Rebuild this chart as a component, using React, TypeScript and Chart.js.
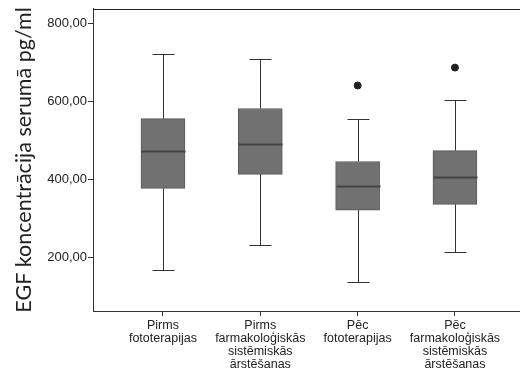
import React, { useEffect, useRef } from "react";
import { Chart, registerables } from "chart.js";

Chart.register(...registerables);

const categories: string[][] = [
  ["Pirms", "fototerapijas"],
  ["Pirms", "farmakoloģiskās", "sistēmiskās", "ārstēšanas"],
  ["Pēc", "fototerapijas"],
  ["Pēc", "farmakoloģiskās", "sistēmiskās", "ārstēšanas"],
];
const whiskerLow = [167, 231, 136, 213];
const q1 = [377, 413, 321, 336];
const median = [474, 492, 382, 405];
const q3 = [556, 582, 446, 474];
const whiskerHigh = [723, 708, 554, 603];
const outlierCat = [2, 3];
const outlierVal = [641, 687];
const yTicks = [200, 400, 600, 800];
const yTitle = "EGF koncentrācija serumā pg/ml";

const boxPlugin = {
  id: "boxParts",
  afterDatasetsDraw(chart: any) {
    const { ctx, scales } = chart;
    const x = scales.x;
    const y = scales.y;
    ctx.save();
    ctx.strokeStyle = "#333333";
    ctx.lineWidth = 1;
    for (let i = 0; i < categories.length; i++) {
      const cx = Math.round(x.getPixelForValue(i)) + 0.5;
      const yl = Math.round(y.getPixelForValue(whiskerLow[i])) + 0.5;
      const y1 = y.getPixelForValue(q1[i]);
      const y3 = y.getPixelForValue(q3[i]);
      const yh = Math.round(y.getPixelForValue(whiskerHigh[i])) + 0.5;
      const ym = Math.round(y.getPixelForValue(median[i])) + 0.5;
      const cap = 11;
      ctx.beginPath();
      ctx.moveTo(cx, y1);
      ctx.lineTo(cx, yl);
      ctx.moveTo(cx - cap, yl);
      ctx.lineTo(cx + cap, yl);
      ctx.moveTo(cx, y3);
      ctx.lineTo(cx, yh);
      ctx.moveTo(cx - cap, yh);
      ctx.lineTo(cx + cap, yh);
      ctx.stroke();
      ctx.beginPath();
      ctx.lineWidth = 2;
      ctx.strokeStyle = "#444444";
      ctx.moveTo(cx - 22, ym);
      ctx.lineTo(cx + 22, ym);
      ctx.stroke();
      ctx.lineWidth = 1;
      ctx.strokeStyle = "#333333";
    }
    ctx.restore();
  },
  afterDraw(chart: any) {
    const { ctx } = chart;
    const ca = chart.chartArea;
    ctx.save();
    // keep the plot open on the right, as in the reference
    ctx.fillStyle = "#ffffff";
    ctx.fillRect(ca.right - 3, ca.top + 2, 520 - ca.right + 3, ca.bottom - ca.top - 3);
    ctx.fillRect(ca.right - 3, ca.bottom + 1, 520 - ca.right + 3, 8);
    ctx.lineWidth = 1;
    ctx.beginPath();
    ctx.strokeStyle = "#222222";
    ctx.moveTo(ca.left, Math.round(ca.top) + 0.5);
    ctx.lineTo(520, Math.round(ca.top) + 0.5);
    ctx.stroke();
    ctx.beginPath();
    ctx.strokeStyle = "#333333";
    ctx.moveTo(ca.left, Math.round(ca.bottom) + 0.5);
    ctx.lineTo(520, Math.round(ca.bottom) + 0.5);
    ctx.stroke();
    ctx.restore();
  },
};

export default function App() {
  const ref = useRef<HTMLCanvasElement>(null);
  useEffect(() => {
    document.body.style.margin = "0";
    const canvas = ref.current!;
    const chart = new Chart(canvas, {
      type: "bar",
      data: {
        datasets: [
          {
            type: "bar",
            data: categories.map((_, i) => ({ x: i, y: [q1[i], q3[i]] })) as any,
            backgroundColor: "#717171",
            borderColor: "#5a5a5a",
            borderWidth: 1,
            borderSkipped: false,
            barThickness: 44,
          },
          {
            type: "scatter",
            data: outlierCat.map((c, i) => ({ x: c, y: outlierVal[i] })),
            backgroundColor: "#222222",
            borderColor: "#222222",
            pointRadius: 3.5,
            showLine: false,
          } as any,
        ],
      },
      options: {
        animation: false,
        responsive: false,
        maintainAspectRatio: false,
        layout: { padding: { top: 8, right: 0, left: 0, bottom: 0 } },
        plugins: { legend: { display: false }, tooltip: { enabled: false } },
        scales: {
          x: {
            type: "linear",
            offset: false,
            min: -0.719,
            max: 3.617,
            afterBuildTicks: (s: any) => {
              s.ticks = categories.map((_, i) => ({ value: i }));
            },
            afterFit: (s: any) => {
              s.height = 60;
            },
            ticks: {
              callback: (v: any) => categories[v as number] ?? "",
              color: "#222222",
              font: { family: "Liberation Sans", size: 12.5, lineHeight: 1.05 },
              padding: 3,
              maxRotation: 0,
              autoSkip: false,
            },
            grid: {
              offset: false,
              drawOnChartArea: false,
              drawTicks: true,
              tickLength: 5,
              color: "#333333",
            },
            border: { display: false },
          },
          y: {
            type: "linear",
            min: 62,
            max: 838,
            afterBuildTicks: (s: any) => {
              s.ticks = yTicks.map((v) => ({ value: v }));
            },
            afterFit: (s: any) => {
              s.width = 93;
            },
            ticks: {
              callback: (v: any) => Number(v).toFixed(2).replace(".", ","),
              color: "#222222",
              font: { family: "Liberation Sans", size: 13 },
              padding: 1,
            },
            grid: {
              drawOnChartArea: false,
              drawTicks: true,
              tickLength: 5,
              color: "#333333",
            },
            border: { color: "#333333", width: 1 },
            title: {
              display: true,
              text: yTitle,
              color: "#222222",
              font: { family: "Lato", size: 21.5 },
              padding: { top: 11, bottom: 0 },
            },
          },
        },
      },
      plugins: [boxPlugin],
    });
    return () => chart.destroy();
  }, []);
  return <canvas ref={ref} width={520} height={371} style={{ display: "block" }} />;
}
